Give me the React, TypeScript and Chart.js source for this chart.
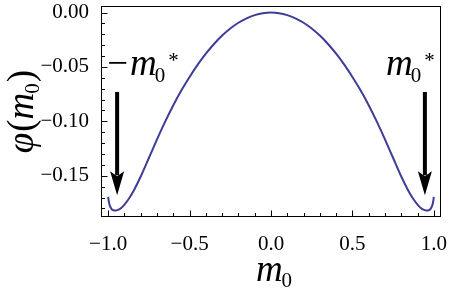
import React, { useEffect, useRef } from "react";
import { Chart, registerables } from "chart.js";

Chart.register(...registerables);

// m0 values (x) and phi(m0) values (y)
const mValues = [
  -1.0, -0.995, -0.99, -0.98, -0.97, -0.955, -0.94, -0.92, -0.9, -0.87, -0.84, -0.8, -0.75,
  -0.7, -0.65, -0.6, -0.55, -0.5, -0.45, -0.4, -0.35, -0.3, -0.25, -0.2, -0.15, -0.1, -0.05,
  0.0,
  0.05, 0.1, 0.15, 0.2, 0.25, 0.3, 0.35, 0.4, 0.45, 0.5, 0.55, 0.6, 0.65, 0.7,
  0.75, 0.8, 0.84, 0.87, 0.9, 0.92, 0.94, 0.955, 0.97, 0.98, 0.99, 0.995, 1.0,
];
const phiValues = [
  -0.1694, -0.1745, -0.1775, -0.1804, -0.1816, -0.182, -0.1814, -0.1796, -0.1765, -0.1704, -0.1628, -0.1507, -0.1337,
  -0.1166, -0.1003, -0.0852, -0.0715, -0.0592, -0.0479, -0.0378, -0.0289, -0.0212, -0.0147, -0.0094, -0.0053, -0.0024, -0.0006,
  0.0,
  -0.0006, -0.0024, -0.0053, -0.0094, -0.0147, -0.0212, -0.0289, -0.0378, -0.0479, -0.0592, -0.0715, -0.0852, -0.1003, -0.1166,
  -0.1337, -0.1507, -0.1628, -0.1704, -0.1765, -0.1796, -0.1814, -0.182, -0.1816, -0.1804, -0.1775, -0.1745, -0.1694,
];

const xMajorTicks = [-1.0, -0.5, 0.0, 0.5, 1.0];
const xMinorTicks = [-0.9, -0.8, -0.7, -0.6, -0.4, -0.3, -0.2, -0.1, 0.1, 0.2, 0.3, 0.4, 0.6, 0.7, 0.8, 0.9];
const yMajorTicks = [0.0, -0.05, -0.1, -0.15];
const yMinorTicks = [-0.01, -0.02, -0.03, -0.04, -0.06, -0.07, -0.08, -0.09, -0.11, -0.12, -0.13, -0.14, -0.16, -0.17, -0.18];

// annotation anchors in data coordinates
const arrowXs = [-0.945, 0.945];
const arrowTopPhi = -0.073;
const arrowTipPhi = -0.168;
const leftLabelAnchor = { m: -1.0, phi: -0.0577 };
const rightLabelAnchor = { m: 0.706, phi: -0.0577 };

const SERIF = '"Liberation Serif", "Times New Roman", serif';
const BIG = 37;
const SMALL = 21;
const italicBig = `italic ${BIG}px ${SERIF}`;
const uprightBig = `${BIG}px ${SERIF}`;
const uprightSmall = `${SMALL}px ${SERIF}`;

type Part = { t: string; font: string; dy?: number; dx?: number };

function partsWidth(ctx: CanvasRenderingContext2D, parts: Part[]) {
  let w = 0;
  for (const p of parts) {
    ctx.font = p.font;
    w += (p.dx || 0) + ctx.measureText(p.t).width;
  }
  return w;
}

function drawParts(ctx: CanvasRenderingContext2D, parts: Part[], x: number, y: number) {
  let cx = x;
  for (const p of parts) {
    ctx.font = p.font;
    cx += p.dx || 0;
    ctx.fillText(p.t, cx, y + (p.dy || 0));
    cx += ctx.measureText(p.t).width;
  }
}

const decorPlugin = {
  id: "decor",
  afterDraw(chart: any) {
    const { ctx, chartArea: a, scales } = chart;
    const xs = scales.x;
    const ys = scales.y;
    ctx.save();
    ctx.strokeStyle = "#000";
    ctx.lineWidth = 1;
    const L = Math.round(a.left) + 0.5;
    const T = Math.round(a.top) + 0.5;
    const R = Math.round(a.right) - 0.5;
    const B = Math.round(a.bottom) - 0.5;
    ctx.strokeRect(L, T, R - L, B - T);
    ctx.beginPath();
    for (const v of xMajorTicks) {
      const px = Math.round(xs.getPixelForValue(v)) + 0.5;
      ctx.moveTo(px, B);
      ctx.lineTo(px, B - 6);
    }
    for (const v of xMinorTicks) {
      const px = Math.round(xs.getPixelForValue(v)) + 0.5;
      ctx.moveTo(px, B);
      ctx.lineTo(px, B - 3.5);
    }
    for (const v of yMajorTicks) {
      const py = Math.round(ys.getPixelForValue(v)) + 0.5;
      ctx.moveTo(L, py);
      ctx.lineTo(L + 6, py);
    }
    for (const v of yMinorTicks) {
      const py = Math.round(ys.getPixelForValue(v)) + 0.5;
      ctx.moveTo(L, py);
      ctx.lineTo(L + 3.5, py);
    }
    ctx.stroke();

    // arrows
    ctx.fillStyle = "#000";
    for (const mx of arrowXs) {
      const px = xs.getPixelForValue(mx);
      const top = ys.getPixelForValue(arrowTopPhi);
      const tip = ys.getPixelForValue(arrowTipPhi);
      const headLen = 24;
      const headHalf = 7;
      ctx.lineWidth = 4;
      ctx.beginPath();
      ctx.moveTo(px, top);
      ctx.lineTo(px, tip - headLen + 4);
      ctx.stroke();
      ctx.beginPath();
      ctx.moveTo(px, tip);
      ctx.lineTo(px - headHalf, tip - headLen);
      ctx.lineTo(px, tip - headLen + 5);
      ctx.lineTo(px + headHalf, tip - headLen);
      ctx.closePath();
      ctx.fill();
    }

    // labels
    ctx.textAlign = "left";
    ctx.textBaseline = "alphabetic";
    ctx.fillStyle = "#000";
    const leftParts: Part[] = [
      { t: "\u2212", font: uprightBig },
      { t: "m", font: italicBig, dx: 2 },
      { t: "0", font: uprightSmall, dy: 7, dx: -2 },
      { t: "*", font: uprightSmall, dy: -8, dx: 3 },
    ];
    drawParts(ctx, leftParts, xs.getPixelForValue(leftLabelAnchor.m) - 1, ys.getPixelForValue(leftLabelAnchor.phi));
    const rightParts: Part[] = [
      { t: "m", font: italicBig },
      { t: "0", font: uprightSmall, dy: 7, dx: -2 },
      { t: "*", font: uprightSmall, dy: -8, dx: 3 },
    ];
    drawParts(ctx, rightParts, xs.getPixelForValue(rightLabelAnchor.m), ys.getPixelForValue(rightLabelAnchor.phi));

    // x axis title
    const xTitle: Part[] = [
      { t: "m", font: italicBig },
      { t: "0", font: uprightSmall, dy: 6, dx: -1 },
    ];
    const xw = partsWidth(ctx, xTitle);
    drawParts(ctx, xTitle, (a.left + a.right) / 2 - xw / 2 + 3, a.bottom + 64);

    // y axis title
    const yTitle: Part[] = [
      { t: "\u03c6", font: italicBig },
      { t: "(", font: uprightBig, dx: 1 },
      { t: "m", font: italicBig },
      { t: "0", font: uprightSmall, dy: 6, dx: -1 },
      { t: ")", font: uprightBig, dx: 1 },
    ];
    const yw = partsWidth(ctx, yTitle);
    ctx.translate(33, (a.top + a.bottom) / 2);
    ctx.rotate(-Math.PI / 2);
    drawParts(ctx, yTitle, -yw / 2, 0);
    ctx.restore();
  },
};

function fmt(v: number, d: number) {
  const s = Math.abs(v).toFixed(d);
  return v < -1e-9 ? "\u2212" + s : s;
}

export default function App() {
  const ref = useRef<HTMLCanvasElement | null>(null);
  useEffect(() => {
    if (!ref.current) return;
    const chart = new Chart(ref.current, {
      type: "line",
      data: {
        datasets: [
          {
            data: mValues.map((m, i) => ({ x: m, y: phiValues[i] })),
            borderColor: "#3d3d99",
            borderWidth: 2,
            pointRadius: 0,
            cubicInterpolationMode: "monotone",
            fill: false,
          },
        ],
      },
      options: {
        animation: false,
        responsive: false,
        devicePixelRatio: 1,
        layout: { padding: { top: 6, right: 9, left: 0, bottom: 0 } },
        plugins: { legend: { display: false }, tooltip: { enabled: false } },
        scales: {
          x: {
            type: "linear",
            min: -1.044,
            max: 1.044,
            grid: { display: false },
            border: { display: false },
            afterBuildTicks: (s: any) => {
              s.ticks = xMajorTicks.map((v) => ({ value: v }));
            },
            afterFit: (s: any) => {
              s.height = 75;
              s.paddingLeft = 0;
              s.paddingRight = 0;
            },
            ticks: {
              color: "#000",
              padding: 7,
              maxRotation: 0,
              font: { family: SERIF, size: 21 },
              callback: (v: any) => fmt(Number(v), 1),
            },
          },
          y: {
            type: "linear",
            min: -0.1879,
            max: 0.006,
            grid: { display: false },
            border: { display: false },
            afterBuildTicks: (s: any) => {
              s.ticks = yMajorTicks.map((v) => ({ value: v }));
            },
            afterFit: (s: any) => {
              s.width = 101;
              s.paddingTop = 0;
              s.paddingBottom = 0;
            },
            ticks: {
              color: "#000",
              padding: 4,
              font: { family: SERIF, size: 21 },
              callback: (v: any) => fmt(Number(v), 2),
            },
          },
        },
      },
      plugins: [decorPlugin],
    } as any);
    return () => chart.destroy();
  }, []);
  return (
    <div style={{ position: "absolute", left: 0, top: 0, width: 450, height: 292, background: "#fff" }}>
      <canvas ref={ref} width={450} height={292} style={{ display: "block", width: 450, height: 292 }} />
    </div>
  );
}
